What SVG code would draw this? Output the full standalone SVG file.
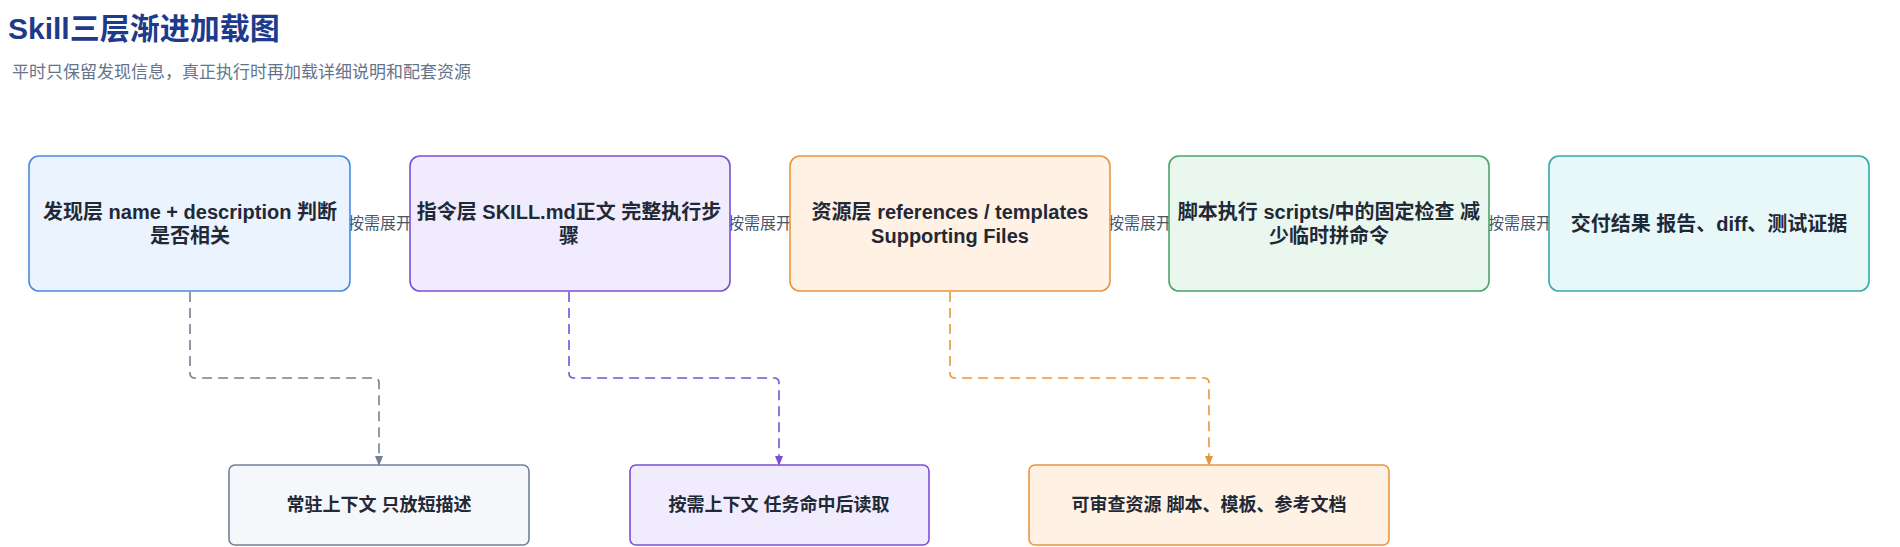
<svg xmlns="http://www.w3.org/2000/svg" width="1900" height="547" viewBox="0 0 1900 547">
<style>
text{font-family:"Liberation Sans","Noto Sans CJK SC",sans-serif}
.t{font-size:20px;font-weight:bold;fill:#1f2937;text-anchor:middle}
.s{font-size:18px}
.lb{font-size:16px;fill:#4a5568;text-anchor:middle}
.e{fill:none;stroke-width:1.6}
.d{fill:none;stroke-width:1.6;stroke-dasharray:10 6}
</style>
<defs>
<marker id="ag" markerWidth="10" markerHeight="10" refX="9" refY="5" orient="auto" markerUnits="userSpaceOnUse"><path d="M0,1 L10,5 L0,9Z" fill="#718096"/></marker>
<marker id="ap" markerWidth="10" markerHeight="10" refX="9" refY="5" orient="auto" markerUnits="userSpaceOnUse"><path d="M0,1 L10,5 L0,9Z" fill="#7b4fd6"/></marker>
<marker id="ao" markerWidth="10" markerHeight="10" refX="9" refY="5" orient="auto" markerUnits="userSpaceOnUse"><path d="M0,1 L10,5 L0,9Z" fill="#e8963e"/></marker>
</defs>
<rect width="1900" height="547" fill="#fff"/>
<text x="8" y="39" style="font-size:30px;font-weight:bold;fill:#1e3a8a">Skill三层渐进加载图</text>
<text x="12" y="78" style="font-size:17px;fill:#64748b">平时只保留发现信息，真正执行时再加载详细说明和配套资源</text>
<g id="connectors">
<line class="e" x1="350" y1="223" x2="410" y2="223" stroke="#8b95a5"/>
<line class="e" x1="730" y1="223" x2="790" y2="223" stroke="#8b95a5"/>
<line class="e" x1="1110" y1="223" x2="1170" y2="223" stroke="#8b95a5"/>
<line class="e" x1="1490" y1="223" x2="1550" y2="223" stroke="#8b95a5"/>
<rect x="348" y="212" width="64" height="22" fill="#fff"/><text class="lb" x="380" y="229">按需展开</text>
<rect x="728" y="212" width="64" height="22" fill="#fff"/><text class="lb" x="760" y="229">按需展开</text>
<rect x="1108" y="212" width="64" height="22" fill="#fff"/><text class="lb" x="1140" y="229">按需展开</text>
<rect x="1488" y="212" width="64" height="22" fill="#fff"/><text class="lb" x="1520" y="229">按需展开</text>
<path class="d" d="M190,292 V373 Q190,378 195,378 H374 Q379,378 379,383 V465" stroke="#718096" marker-end="url(#ag)"/>
<path class="d" d="M569,292 V373 Q569,378 574,378 H774 Q779,378 779,383 V465" stroke="#7b4fd6" marker-end="url(#ap)"/>
<path class="d" d="M950,292 V373 Q950,378 955,378 H1204 Q1209,378 1209,383 V465" stroke="#e8963e" marker-end="url(#ao)"/>
</g>
<g id="n1"><rect x="29" y="156" width="321" height="135" rx="10" fill="#ebf3ff" stroke="#4a8ae0" stroke-width="1.6"/><text class="t" x="190" y="219">发现层 name + description 判断</text><text class="t" x="190" y="243">是否相关</text></g>
<g id="n2"><rect x="410" y="156" width="320" height="135" rx="10" fill="#f1ecfd" stroke="#7b4fd6" stroke-width="1.6"/><text class="t" x="569" y="219">指令层 SKILL.md正文 完整执行步</text><text class="t" x="569" y="243">骤</text></g>
<g id="n3"><rect x="790" y="156" width="320" height="135" rx="10" fill="#fff1e3" stroke="#e8963e" stroke-width="1.6"/><text class="t" x="950" y="219">资源层 references / templates</text><text class="t" x="950" y="243">Supporting Files</text></g>
<g id="n4"><rect x="1169" y="156" width="320" height="135" rx="10" fill="#eaf7ee" stroke="#4aa36c" stroke-width="1.6"/><text class="t" x="1329" y="219">脚本执行 scripts/中的固定检查 减</text><text class="t" x="1329" y="243">少临时拼命令</text></g>
<g id="n5"><rect x="1549" y="156" width="320" height="135" rx="10" fill="#e8f7f7" stroke="#36a9a8" stroke-width="1.6"/><text class="t" x="1709" y="231">交付结果 报告、diff、测试证据</text></g>
<g id="b1"><rect x="229" y="465" width="300" height="80" rx="6" fill="#f5f7fa" stroke="#718096" stroke-width="1.6"/><text class="t s" x="379" y="511">常驻上下文 只放短描述</text></g>
<g id="b2"><rect x="630" y="465" width="299" height="80" rx="6" fill="#f1ecfd" stroke="#7b4fd6" stroke-width="1.6"/><text class="t s" x="779" y="511">按需上下文 任务命中后读取</text></g>
<g id="b3"><rect x="1029" y="465" width="360" height="80" rx="6" fill="#fff1e3" stroke="#e8963e" stroke-width="1.6"/><text class="t s" x="1209" y="511">可审查资源 脚本、模板、参考文档</text></g>
</svg>
